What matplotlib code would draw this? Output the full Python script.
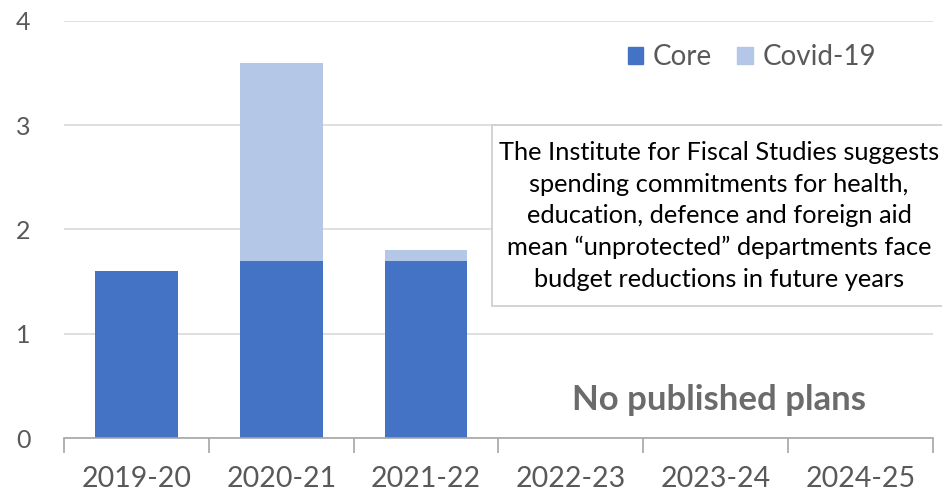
import matplotlib.pyplot as plt
import numpy as np
from matplotlib.patches import Patch, Rectangle

years = ["2019-20", "2020-21", "2021-22", "2022-23", "2023-24", "2024-25"]
core = [1.6, 1.7, 1.7, 0, 0, 0]
covid = [0, 1.9, 0.1, 0, 0, 0]

CORE_COLOR = "#4472C4"
COVID_COLOR = "#B4C7E7"
TEXT_GRAY = "#595959"

plt.rcParams["font.family"] = ["Lato", "DejaVu Sans"]

W, H = 942, 494
fig = plt.figure(figsize=(W / 100, H / 100), dpi=100)
ax = fig.add_axes([64 / W, 56 / H, 869 / W, 417 / H])

x = np.arange(len(years))
ax.bar(x, core, width=0.57, color=CORE_COLOR, zorder=3)
ax.bar(x, covid, width=0.57, bottom=core, color=COVID_COLOR, zorder=3)

ax.set_xlim(-0.5, len(years) - 0.5)
ax.set_ylim(0, 4)
ax.set_yticks([0, 1, 2, 3, 4])
ax.yaxis.grid(True, color="#D9D9D9", linewidth=1.2, zorder=0)
ax.tick_params(axis="y", length=0, pad=24, labelsize=18, labelcolor=TEXT_GRAY)

# category boundaries as tick marks, labels centred under each bar
ax.set_xticks(np.arange(-0.5, len(years)))
ax.set_xticklabels([])
ax.set_xticks(x, minor=True)
ax.set_xticklabels(years, minor=True)
ax.tick_params(axis="x", which="major", length=11, color="#A6A6A6", width=1.2)
ax.tick_params(axis="x", which="minor", length=0, pad=20, labelsize=20.5,
               labelcolor=TEXT_GRAY)

for side in ("left", "right", "top"):
    ax.spines[side].set_visible(False)
ax.spines["bottom"].set_color("#A6A6A6")
ax.spines["bottom"].set_linewidth(1.2)
ax.spines["bottom"].set_zorder(4)

handles = [Patch(color=CORE_COLOR, label="Core"),
           Patch(color=COVID_COLOR, label="Covid-19")]
fig.legend(handles=handles, loc="center right",
           bbox_to_anchor=(876 / W, 1 - 57 / H), bbox_transform=fig.transFigure,
           ncol=2, frameon=False, fontsize=20, labelcolor=TEXT_GRAY,
           handlelength=0.55, handleheight=0.55, handletextpad=0.35,
           columnspacing=0.9, borderpad=0, borderaxespad=0)

# note box, running off the right edge
fig.patches.append(Rectangle((492 / W, 1 - 306 / H), 500 / W, 181 / H,
                             transform=fig.transFigure, facecolor="white",
                             edgecolor="#D0D0D0", linewidth=1.3, zorder=5))
note = ("The Institute for Fiscal Studies suggests\n"
        "spending commitments for health,\n"
        "education, defence and foreign aid\n"
        "mean \u201cunprotected\u201d departments face\n"
        "budget reductions in future years")
fig.text(719 / W, 1 - 216 / H, note, ha="center", va="center",
         fontsize=18.3, color="black", linespacing=1.45, zorder=6)

ax.text(4.02, 0.365, "No published plans", ha="center", va="center",
        fontsize=25, fontweight="bold", color="#6B6B6B")

fig.savefig("out.png", dpi=100)
